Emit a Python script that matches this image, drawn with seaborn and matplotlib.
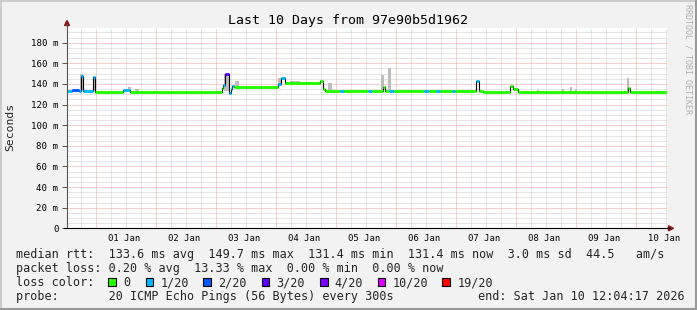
import numpy as np
import pandas as pd
import matplotlib
matplotlib.use("Agg")
import matplotlib.pyplot as plt
from matplotlib.lines import Line2D
from matplotlib.patches import Rectangle, Polygon
import seaborn as sns

# ---------------- data (hours since start of the 10-day window) ----------------
seg_hours = [0, 2.0, 4.8, 5.6, 6.4, 10.4, 11.2, 22.4, 25.2, 62.0, 62.4, 63.2, 64.8,
             65.6, 66.0, 66.8, 84.4, 85.6, 87.2, 101.2, 102.4, 103.2, 109.2, 110.8,
             120.4, 122.0, 126.4, 127.2, 128.8, 130.8, 142.8, 144.8, 147.6, 149.2,
             154.0, 155.2, 163.6, 164.8, 166.4, 177.2, 178.4, 180.4, 224.4, 225.2]
median_ms = [133.5, 134, 133.5, 148, 133.5, 147, 132.5, 134, 132.5, 136, 139, 150, 131,
             135, 138, 137.5, 140, 146, 141, 143, 135, 133, 133, 133,
             133, 133, 137, 133, 133.5, 133, 133.5, 133, 133.5, 133,
             133.5, 133, 143, 133, 132, 138.5, 135.5, 132.5, 136, 132]
loss_idx = [1, 2, 1, 1, 1, 1, 0, 1, 0, 0, 1, 3, 1,
            1, 1, 0, 1, 1, 0, 0, 0, 0, 1, 0,
            1, 0, 0, 0, 1, 0, 1, 0, 1, 0,
            1, 0, 1, 0, 0, 0, 0, 0, 0, 0]
end_hour = 240

smoke_start = [5.2, 10.4, 24.4, 27.2, 62.8, 67.2, 84.4, 89.2, 104.4, 125.6, 128.4, 188.0, 198.0, 201.2, 203.2, 224.0]
smoke_end   = [6.4, 11.2, 25.6, 28.8, 64.8, 68.8, 85.6, 93.2, 106.0, 126.8, 129.6, 188.8, 198.8, 202.0, 204.0, 224.8]
smoke_low   = [133, 133, 133, 133, 133, 137, 138, 141, 133, 133, 133, 132, 132, 132, 132, 132]
smoke_high  = [150, 147.5, 137, 135.5, 150, 143, 146, 143, 140.6, 149, 155, 134, 135, 137, 135, 146]

loss_colors = ["#26ff00", "#00b8ff", "#0059ff", "#5e00ff", "#7e00ff", "#dd00ff", "#ff0000"]
loss_labels = ["0", "1/20", "2/20", "3/20", "4/20", "10/20", "19/20"]

day_labels = ["01 Jan", "02 Jan", "03 Jan", "04 Jan", "05 Jan", "06 Jan", "07 Jan", "08 Jan", "09 Jan", "10 Jan"]
y_ticks = [0, 20, 40, 60, 80, 100, 120, 140, 160, 180]
y_tick_labels = ["0", "20 m", "40 m", "60 m", "80 m", "100 m", "120 m", "140 m", "160 m", "180 m"]

title = "Last 10 Days from 97e90b5d1962"
row1 = "median rtt:  133.6 ms avg  149.7 ms max  131.4 ms min  131.4 ms now  3.0 ms sd  44.5   am/s"
row2 = "packet loss: 0.20 % avg  13.33 % max  0.00 % min  0.00 % now"
row3_head = "loss color:"
row4_left = "probe:       20 ICMP Echo Pings (56 Bytes) every 300s"
row4_right = "end: Sat Jan 10 12:04:17 2026"

# ---------------- figure ----------------
sns.set_theme(style="white")
plt.rcParams["font.family"] = ["DejaVu Sans Mono"]
W, H = 697, 310
fig = plt.figure(figsize=(W / 100, H / 100), dpi=100, facecolor="#F2F2F2")

def fx(px):
    return px / W

def fy(py):
    return 1 - py / H

ax_left, ax_right, ax_top, ax_bot = 67, 667, 28, 228.3
ax = fig.add_axes([fx(ax_left), fy(ax_bot), (ax_right - ax_left) / W, (ax_bot - ax_top) / H])
ax.set_facecolor("white")
ax.set_xlim(0, end_hour)
ax.set_ylim(0, (ax_bot - ax_top) / 1.031)
for s in ax.spines.values():
    s.set_visible(False)

# grid
dot = (0, (1, 1))
gkw = dict(lw=0.72, ls=dot, zorder=0)
for k in range(40):
    h = 5.5 + 6 * k
    if h > end_hour:
        break
    if abs(((h - 11.5) / 24) - round((h - 11.5) / 24)) > 1e-6:
        ax.axvline(h, color="#CCCCCC", **gkw)
for k in range(10):
    ax.axvline(11.5 + 24 * k, color="#EFA0A0", **gkw)
for v in range(5, 195, 5):
    if v % 20:
        ax.axhline(v, color="#CCCCCC", **gkw)
for v in y_ticks[1:]:
    ax.axhline(v, color="#EFA0A0", **gkw)

# smoke
for s0, s1, lo, hi in zip(smoke_start, smoke_end, smoke_low, smoke_high):
    ax.fill_between([s0, s1], [lo, lo], [hi, hi], color="#BDBDBD", lw=0, zorder=1)

# median black step line
xs = seg_hours + [end_hour]
ys = median_ms + [median_ms[-1]]
df = pd.DataFrame({"hour": xs, "ms": ys})
sns.lineplot(data=df, x="hour", y="ms", drawstyle="steps-post", color="black",
             linewidth=0.8, ax=ax, estimator=None, zorder=2)

# loss coloured median caps
for i, (h0, v, li) in enumerate(zip(seg_hours, median_ms, loss_idx)):
    h1 = seg_hours[i + 1] if i + 1 < len(seg_hours) else end_hour
    ax.hlines(v, h0, h1, color=loss_colors[li], lw=2.1, zorder=3)

# ticks
ax.set_yticks(y_ticks)
ax.set_yticklabels(y_tick_labels)
ax.set_xticks([23 + 24 * k for k in range(10)])
ax.set_xticklabels(day_labels)
ax.tick_params(axis="y", which="major", left=True, length=3.6, width=0.7, color="#555555",
               pad=2.6, labelsize=6.6, labelcolor="black")
ax.tick_params(axis="x", which="major", bottom=False, length=0, pad=4.2, labelsize=6.4,
               labelcolor="black")
ax.set_xlabel("")
ax.set_ylabel("")

# axis lines with arrows
fig.add_artist(Line2D([fx(ax_left), fx(ax_left)], [fy(ax_bot), fy(24)], transform=fig.transFigure,
                      color="#555555", lw=0.8))
fig.add_artist(Line2D([fx(ax_left - 3), fx(670)], [fy(ax_bot), fy(ax_bot)], transform=fig.transFigure,
                      color="black", lw=0.8))
fig.add_artist(Polygon([[fx(64.5), fy(25.5)], [fx(69.5), fy(25.5)], [fx(67), fy(20.5)]],
                       closed=True, transform=fig.transFigure, color="#8B1A1A"))
fig.add_artist(Polygon([[fx(668.5), fy(225.8)], [fx(668.5), fy(230.8)], [fx(673.5), fy(228.3)]],
                       closed=True, transform=fig.transFigure, color="#8B1A1A"))

# texts
fig.text(fx(348), fy(24.3), title, ha="center", va="baseline", fontsize=9.5, color="black")
fig.text(fx(10.5), fy(127), "Seconds", rotation=90, ha="center", va="center", fontsize=8.2)
fig.text(fx(688), fy(4), "RRDTOOL / TOBI OETIKER", rotation=270, ha="center", va="top",
         fontsize=6, color="#B0B0B0")

LF = 8.47
fig.text(fx(16), fy(258.3), row1, ha="left", va="baseline", fontsize=LF)
fig.text(fx(16), fy(272.3), row2, ha="left", va="baseline", fontsize=LF)
fig.text(fx(16), fy(286.3), row3_head, ha="left", va="baseline", fontsize=LF)
fig.text(fx(16), fy(300.3), row4_left, ha="left", va="baseline", fontsize=LF)
fig.text(fx(478.3), fy(300.3), row4_right, ha="left", va="baseline", fontsize=LF)

sq_x = [108, 145.7, 203, 261.7, 320, 377.7, 442.3]
txt_x = [123, 160.7, 218.3, 276, 334, 392.3, 457.3]
for sx, tx, c, lab in zip(sq_x, txt_x, loss_colors, loss_labels):
    fig.add_artist(Rectangle((fx(sx), fy(286)), 7.5 / W, 8 / H, transform=fig.transFigure,
                             facecolor=c, edgecolor="black", lw=0.8))
    fig.text(fx(tx), fy(286.3), lab, ha="left", va="baseline", fontsize=LF)

# 3D border
fig.add_artist(Line2D([0, 1], [fy(0.5), fy(0.5)], transform=fig.transFigure, color="#CBCBCB", lw=1.4))
fig.add_artist(Line2D([fx(0.5), fx(0.5)], [0, 1], transform=fig.transFigure, color="#CBCBCB", lw=1.4))
fig.add_artist(Line2D([0, 1], [fy(H - 1), fy(H - 1)], transform=fig.transFigure, color="#999999", lw=2.2))
fig.add_artist(Line2D([fx(W - 1), fx(W - 1)], [0, 1], transform=fig.transFigure, color="#999999", lw=2.2))

fig.savefig("out.png", dpi=100, facecolor=fig.get_facecolor())
